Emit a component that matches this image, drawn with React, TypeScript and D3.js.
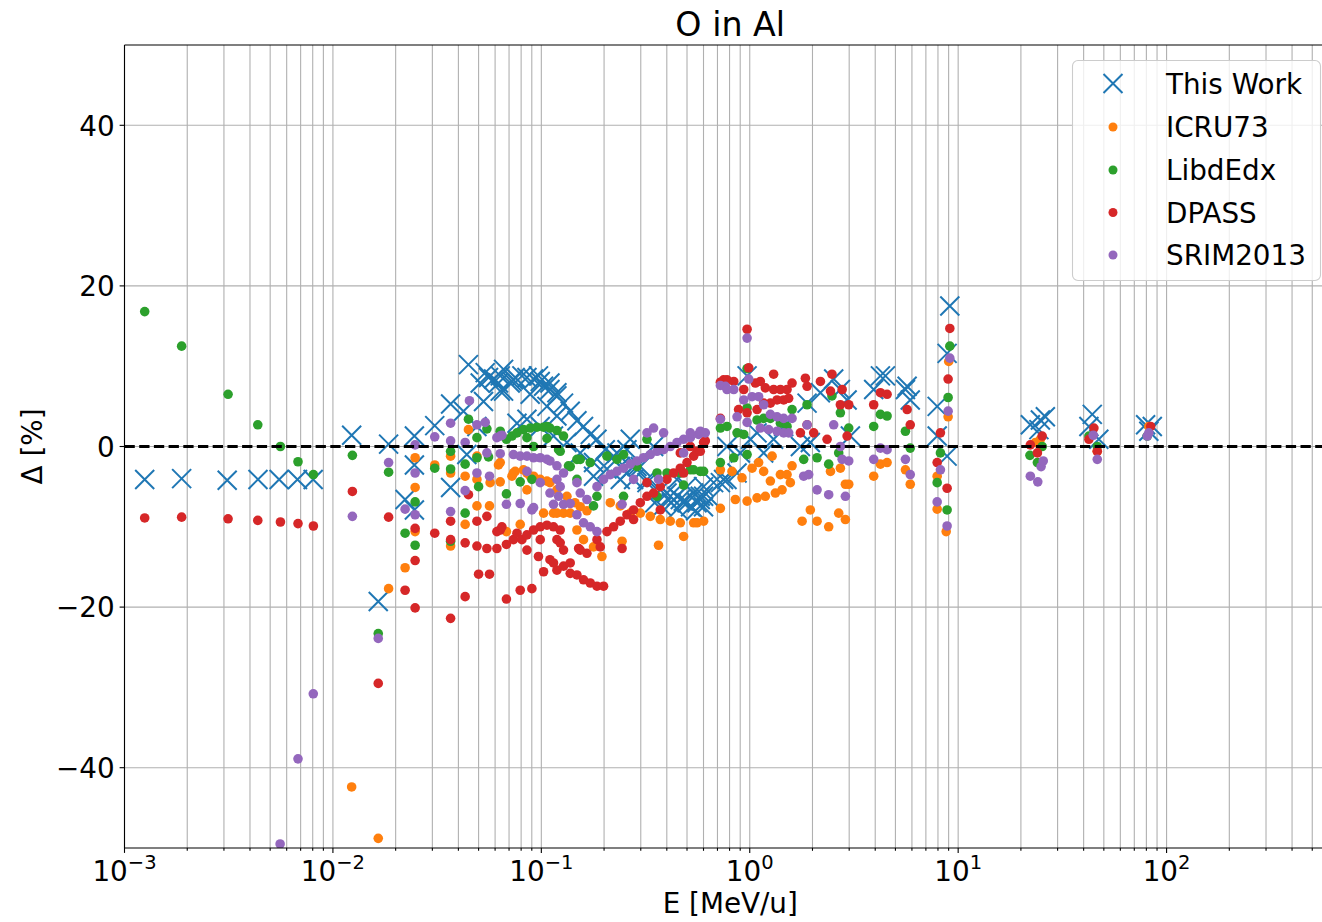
import React, { useRef, useEffect } from 'react';
import * as d3 from 'd3';

// [E in MeV/u, deviation in %]
const thisWork: [number, number][] = [
  [1.25e-3, -4.1], [1.88e-3, -4.0], [3.11e-3, -4.2], [4.37e-3, -4.1], [5.52e-3, -4.1], [6.76e-3, -4.1], [8.04e-3, -4.1],
  [0.0123, 1.4], [0.0185, 0.3], [0.0246, 1.3], [0.0222, -6.6], [0.0246, -2.3], [0.0246, -7.9], [0.0165, -19.3],
  [0.0308, 2.6], [0.0367, -5.1], [0.0367, 5.3], [0.0423, 4.4], [0.0439, -1.0], [0.0447, 10.2],
  [0.0491, 2.5], [0.0509, 7.9], [0.0528, 5.6], [0.0538, 9.2], [0.0558, 8.6],
  [0.059, 8.4], [0.0623, 7.9], [0.0635, 8.8], [0.0635, 6.9], [0.0659, 9.6], [0.0659, 6.9], [0.0709, 7.9],
  [0.0723, 8.1], [0.0735, 8.3], [0.0749, 8.6], [0.0764, 2.9], [0.0807, 8.8], [0.0853, 8.6], [0.0853, 3.4],
  [0.0884, 6.5], [0.0918, 8.4], [0.0969, 8.8], [0.0988, 8.1], [0.0988, 2.5], [0.1025, 7.5], [0.1064, 5.0],
  [0.11, 7.9], [0.11, 7.1], [0.1144, 1.3], [0.1188, 6.7], [0.1188, 6.3], [0.1188, 3.8], [0.1278, 5.4],
  [0.1327, 0.5], [0.1376, 4.4], [0.1482, 3.2], [0.1537, -0.8], [0.1594, 2.5], [0.1717, 1.5], [0.178, -2.0],
  [0.178, -3.7], [0.1849, 0.9], [0.2027, -0.4], [0.2065, -2.8], [0.2222, -1.2], [0.2306, -0.8], [0.2392, -2.5],
  [0.2392, -4.1], [0.2576, -3.3], [0.2576, -0.4], [0.2672, 0.9], [0.2771, -4.1], [0.2877, -2.5], [0.2985, -2.5],
  [0.3213, -4.5], [0.3213, -4.1], [0.3457, 0.0], [0.35, -7.0], [0.3722, -5.4], [0.38, -7.5], [0.4008, -5.8],
  [0.4156, -6.2], [0.42, -7.0], [0.4477, -6.2], [0.4477, -4.1], [0.45, -7.8], [0.4643, -6.6], [0.48, -6.8],
  [0.5, -7.0], [0.5, -5.0], [0.52, -7.5], [0.538, -5.8], [0.55, -8.0], [0.5585, -7.0], [0.579, -6.2],
  [0.579, -6.6], [0.6006, -6.2], [0.6006, -5.0], [0.6, -7.5], [0.65, -6.5], [0.671, -4.5], [0.723, -4.5],
  [0.749, -4.1], [0.778, -4.1], [0.778, 0.0], [0.869, -3.3], [0.901, -0.8], [0.971, 8.8], [1.007, 0.9],
  [1.084, 1.7], [1.166, -0.8], [1.302, 0.9], [1.455, 2.5], [1.75, 0.0], [1.884, 5.4], [1.953, 0.5],
  [2.183, 6.7], [2.528, 8.4], [2.722, 7.1], [2.932, 5.8], [3.04, 1.3], [3.933, 7.1], [4.236, 8.8],
  [4.477, 8.8], [5.585, 7.1], [5.69, 7.5], [5.89, 5.8], [7.93, 5.0], [7.93, 1.3], [8.85, -1.2],
  [8.85, 11.6], [9.12, 17.5], [22.2, 2.7], [24.4, 2.1], [24.8, 3.3], [26.2, 3.7], [42.4, 2.5],
  [44.0, 4.0], [47.3, 0.9], [79.3, 2.7], [82.2, 1.9], [85.4, 2.5],
];

const icru73: [number, number][] = [
  [0.0123, -42.4], [0.0165, -48.8], [0.0185, -17.7], [0.0222, -15.1], [0.0248, -1.4], [0.0248, -5.1],
  [0.0248, -10.6], [0.0308, -2.3], [0.0367, -1.2], [0.0367, -3.3], [0.0367, -12.4], [0.0431, -3.7],
  [0.0431, -9.7], [0.0447, 2.1], [0.0491, -1.2], [0.0491, -4.1], [0.0491, -7.4], [0.0564, -7.4],
  [0.0568, -4.5], [0.0623, -2.3], [0.0635, -4.4], [0.0635, -2.0], [0.068, -10.6], [0.0723, -3.7],
  [0.0735, -3.3], [0.0749, -3.1], [0.0792, -9.7], [0.0821, -2.9], [0.0853, -3.3], [0.0853, -5.4],
  [0.0884, -3.7], [0.0918, -3.7], [0.0988, -4.1], [0.1025, -8.3], [0.1064, -4.3], [0.11, -4.5],
  [0.1144, -8.3], [0.1188, -5.4], [0.1188, -8.3], [0.1278, -8.3], [0.1327, -6.2], [0.1376, -8.3],
  [0.145, -7.0], [0.1482, -10.4], [0.1537, -7.5], [0.1594, -11.6], [0.1655, -8.0], [0.178, -12.5],
  [0.1953, -13.7], [0.2142, -7.0], [0.2392, -7.4], [0.244, -11.8], [0.2672, -8.3], [0.2985, -8.3],
  [0.3333, -8.7], [0.365, -12.3], [0.3722, -9.1], [0.4156, -9.3], [0.4643, -9.5], [0.4816, -11.2],
  [0.538, -9.5], [0.5585, -9.5], [0.6006, -9.3], [0.723, -2.9], [0.723, -7.7], [0.822, -3.1],
  [0.853, -6.6], [0.918, -3.9], [0.971, -6.8], [1.026, -2.7], [1.084, -6.4], [1.103, -2.0],
  [1.166, -3.1], [1.188, -6.2], [1.256, -4.3], [1.28, -1.2], [1.327, -5.8], [1.403, -3.5],
  [1.429, -5.4], [1.51, -3.5], [1.566, -4.5], [1.596, -2.4], [1.783, -9.3], [1.953, -7.9],
  [2.104, -9.3], [2.392, -10.0], [2.44, -3.1], [2.672, -8.3], [2.722, -2.7], [2.877, -9.1],
  [2.877, -4.7], [2.985, -4.7], [3.933, -3.7], [4.236, -2.2], [4.56, -2.0], [5.585, -2.9],
  [5.89, -4.7], [7.93, -3.7], [7.93, -7.8], [8.76, -10.6], [8.95, 3.7], [9.01, 10.6],
  [23.5, 0.5], [24.8, 0.9], [46.5, -0.6], [82.2, 2.5],
];

const libdedx: [number, number][] = [
  [1.25e-3, 16.8], [1.88e-3, 12.5], [3.14e-3, 6.5], [4.36e-3, 2.7], [5.6e-3, 0.0], [6.8e-3, -1.9],
  [8.06e-3, -3.5], [0.0124, -1.1], [0.0165, -23.3], [0.0185, -3.2], [0.0222, -10.8], [0.0248, -6.9],
  [0.0248, -12.3], [0.0308, -2.7], [0.0367, -0.6], [0.0367, -2.8], [0.0367, -11.8], [0.0431, -2.2],
  [0.0431, -8.3], [0.0447, 3.4], [0.0491, 1.1], [0.0491, -1.4], [0.05, -5.0], [0.0548, 2.2],
  [0.0558, -1.3], [0.0635, 1.9], [0.068, 0.9], [0.068, -5.9], [0.0723, 1.3], [0.0764, 1.7],
  [0.0792, -4.4], [0.0821, 2.1], [0.0853, 1.1], [0.0884, 2.3], [0.0901, -4.1], [0.0918, 0.0],
  [0.0952, 2.4], [0.1025, 2.4], [0.1064, 2.5], [0.1064, 1.0], [0.11, 2.3], [0.1188, 2.0],
  [0.121, -0.4], [0.1232, -0.6], [0.1278, 1.3], [0.135, -2.4], [0.1376, -2.5], [0.1482, -1.6],
  [0.1482, -4.1], [0.1537, -1.6], [0.1717, -2.0], [0.178, -7.4], [0.1849, -6.2], [0.2065, -1.2],
  [0.2306, -1.6], [0.248, -1.0], [0.248, -6.2], [0.2877, -2.5], [0.3213, 0.9], [0.3589, -3.3],
  [0.3589, -6.2], [0.4008, -3.3], [0.4643, -3.3], [0.4816, -4.8], [0.5186, -2.9], [0.538, -2.9],
  [0.579, -3.1], [0.6006, -3.1], [0.723, -2.0], [0.723, 2.3], [0.778, 2.5], [0.838, -1.4],
  [0.869, 1.7], [0.936, 1.5], [0.971, -1.0], [0.971, 4.8], [0.971, 9.7], [1.084, 3.3],
  [1.166, 3.5], [1.256, 3.5], [1.403, 2.9], [1.51, 2.5], [1.596, 4.6], [1.815, -1.6],
  [1.884, 5.2], [2.104, -1.4], [2.392, -2.2], [2.48, 6.3], [2.672, -0.8], [2.722, 4.2],
  [2.985, 2.3], [3.933, 2.5], [4.236, 4.0], [4.56, 3.8], [5.585, 1.9], [5.89, -0.2],
  [7.93, -4.5], [8.22, -0.8], [8.85, -7.9], [8.95, 6.1], [9.12, 12.5], [22.1, -1.1],
  [24.0, -2.0], [25.3, 0.0], [42.4, 1.3], [46.5, 0.0], [80.8, 1.3],
];

const dpass: [number, number][] = [
  [1.25e-3, -8.9], [1.88e-3, -8.8], [3.14e-3, -9.0], [4.36e-3, -9.2], [5.6e-3, -9.4], [6.8e-3, -9.6],
  [8.06e-3, -9.9], [0.0124, -5.6], [0.0165, -29.5], [0.0185, -8.8], [0.0222, -17.9], [0.0248, -10.2],
  [0.0248, -14.2], [0.0248, -20.1], [0.0308, -10.8], [0.0367, -9.3], [0.0367, -11.6], [0.0367, -21.4],
  [0.0431, -12.0], [0.0431, -18.7], [0.0447, -6.0], [0.0491, -9.3], [0.0491, -12.4], [0.05, -15.9],
  [0.0548, -8.7], [0.0548, -12.7], [0.0564, -15.9], [0.0612, -10.6], [0.0612, -12.7], [0.0635, -10.4],
  [0.0647, -10.0], [0.068, -12.2], [0.068, -19.0], [0.0735, -11.6], [0.0764, -10.8], [0.0792, -17.9],
  [0.0807, -11.6], [0.0853, -11.0], [0.0853, -12.9], [0.0901, -17.7], [0.0918, -10.4], [0.0969, -13.7],
  [0.0988, -10.0], [0.0988, -11.6], [0.1025, -15.6], [0.1064, -9.8], [0.11, -14.1], [0.1144, -10.0],
  [0.1144, -14.5], [0.1188, -11.6], [0.1188, -15.4], [0.1232, -10.4], [0.1232, -12.0], [0.1278, -12.9],
  [0.1278, -14.9], [0.1376, -14.5], [0.1376, -15.8], [0.1482, -16.0], [0.151, -12.7], [0.1537, -12.9],
  [0.1594, -16.6], [0.1655, -13.3], [0.1717, -17.0], [0.1849, -11.6], [0.1849, -17.4], [0.1918, -12.5],
  [0.1989, -17.4], [0.2065, -10.6], [0.2222, -10.0], [0.2392, -9.3], [0.244, -12.7], [0.2576, -8.5],
  [0.2771, -7.9], [0.2771, -9.1], [0.2985, -7.0], [0.3213, -6.2], [0.3213, -4.5], [0.3457, -5.8],
  [0.3722, -5.0], [0.3722, -7.9], [0.4008, -4.1], [0.431, -3.3], [0.4643, -2.7], [0.4643, -0.8],
  [0.4816, -3.3], [0.5, -2.0], [0.5186, 0.0], [0.538, -1.2], [0.5585, -0.6], [0.579, -0.6],
  [0.6006, 0.5], [0.612, 0.7], [0.723, 3.5], [0.723, 8.0], [0.749, 8.3], [0.778, 8.3],
  [0.838, 8.1], [0.884, 4.6], [0.936, 7.1], [0.971, 4.2], [0.971, 14.6], [0.989, 9.8],
  [1.064, 7.9], [1.084, 4.6], [1.124, 8.1], [1.166, 5.4], [1.188, 7.3], [1.256, 5.4],
  [1.302, 7.1], [1.302, 9.0], [1.352, 5.8], [1.403, 7.1], [1.455, 5.8], [1.51, 7.1],
  [1.537, 6.0], [1.596, 7.9], [1.75, 1.7], [1.849, 8.5], [1.884, 7.5], [1.884, 2.7],
  [2.027, 1.7], [2.183, 8.1], [2.35, 0.9], [2.44, 6.9], [2.48, 9.0], [2.722, 5.2],
  [2.776, 7.1], [2.932, 1.3], [2.985, 5.2], [3.933, 5.2], [4.236, 6.7], [4.56, 6.5],
  [5.69, 4.6], [5.89, 2.7], [7.93, -2.0], [8.22, 1.7], [8.85, -5.2], [8.95, 8.4],
  [9.12, 14.7], [22.2, 0.2], [24.0, -0.8], [25.3, 1.3], [42.4, 0.9], [44.8, 2.3],
  [46.5, -0.6], [83.9, 2.5],
];

const srim2013: [number, number][] = [
  [5.58e-3, -49.5], [6.8e-3, -38.9], [8.05e-3, -30.8], [0.0124, -8.7], [0.0165, -23.9], [0.0185, -2.0],
  [0.0222, -7.8], [0.0248, 0.2], [0.0248, -3.3], [0.0248, -8.5], [0.0308, 1.2], [0.0367, 2.9],
  [0.0367, 0.7], [0.0367, -8.1], [0.0431, 0.5], [0.0431, -5.5], [0.0452, 5.7], [0.0491, 2.7],
  [0.0491, -3.3], [0.0538, 3.0], [0.0548, -0.8], [0.0564, -3.7], [0.0612, 1.1], [0.0635, 1.3],
  [0.0635, -0.9], [0.0647, 1.4], [0.068, -7.2], [0.0735, -1.0], [0.0792, -1.2], [0.0792, -7.1],
  [0.0853, -1.2], [0.0853, -3.1], [0.0901, -7.9], [0.0918, -1.4], [0.0918, -7.6], [0.0988, -1.4],
  [0.0988, -4.5], [0.1064, -1.6], [0.11, -1.8], [0.11, -5.8], [0.1144, -7.2], [0.1188, -2.4],
  [0.1188, -4.1], [0.121, -6.2], [0.1232, -5.0], [0.1278, -3.3], [0.1278, -7.2], [0.1376, -7.1],
  [0.1482, -4.5], [0.1482, -8.5], [0.1537, -5.8], [0.1594, -9.5], [0.1655, -6.6], [0.1717, -10.0],
  [0.1849, -5.0], [0.1849, -10.6], [0.1989, -4.1], [0.2142, -3.5], [0.2306, -3.1], [0.244, -7.2],
  [0.248, -2.7], [0.2672, -2.2], [0.2771, -4.1], [0.2877, -1.8], [0.3095, -1.4], [0.3213, 1.7],
  [0.3333, -1.0], [0.3457, 2.3], [0.3589, -0.6], [0.365, -4.1], [0.386, -0.4], [0.386, 1.7],
  [0.4156, 0.0], [0.4477, 0.5], [0.4816, 0.9], [0.4816, -0.8], [0.5186, 1.1], [0.5186, 1.7],
  [0.568, 1.5], [0.579, 1.9], [0.612, 1.7], [0.723, 7.6], [0.723, 3.4], [0.764, 7.5],
  [0.778, 7.1], [0.838, 7.1], [0.869, 3.7], [0.936, 5.8], [0.971, 3.0], [0.971, 13.5],
  [0.989, 8.4], [1.026, 6.2], [1.103, 6.2], [1.124, 2.3], [1.166, 5.2], [1.232, 2.1],
  [1.256, 4.0], [1.352, 3.7], [1.352, 1.9], [1.455, 3.5], [1.455, 1.7], [1.537, 1.7],
  [1.596, 3.5], [1.815, -3.7], [1.884, 2.7], [1.918, -3.5], [2.104, -5.4], [2.392, -6.0],
  [2.528, 2.7], [2.722, 0.0], [2.776, -1.6], [2.877, -6.2], [2.985, -1.8], [3.933, -1.6],
  [4.236, -0.2], [4.56, -0.4], [5.585, -1.6], [5.89, -3.5], [7.93, -6.9], [8.22, -2.9],
  [8.85, -9.9], [8.95, 4.4], [9.12, 11.0], [22.2, -3.7], [24.1, -4.4], [25.0, -2.5],
  [25.6, -1.8], [44.5, 1.4], [46.5, -1.6], [80.8, 1.3], [82.2, 1.7],
];

const seriesNames = ['This Work', 'ICRU73', 'LibdEdx', 'DPASS', 'SRIM2013'];
const seriesColors = ['#1f77b4', '#ff7f0e', '#2ca02c', '#d62728', '#9467bd'];
const seriesData = [thisWork, icru73, libdedx, dpass, srim2013];

const xDomain: [number, number] = [1e-3, 650];
const yDomain: [number, number] = [-50, 50];
const yTicks = [-40, -20, 0, 20, 40];
const xDecades = [-3, -2, -1, 0, 1, 2];

const W = 1322;
const H = 922;
const plot = { left: 124.5, right: 1336, top: 45, bottom: 848 };
const FONT = '"DejaVu Sans", sans-serif';

const App = () => {
  const svgRef = useRef<SVGSVGElement>(null);

  useEffect(() => {
    const svg = d3.select(svgRef.current);
    svg.selectAll('*').remove();

    const x = d3.scaleLog().domain(xDomain).range([plot.left, plot.right]);
    const y = d3.scaleLinear().domain(yDomain).range([plot.bottom, plot.top]);

    // all minor + major positions on the log axis
    const xGrid: number[] = [];
    xDecades.forEach(e => {
      for (let k = 1; k <= 9; k++) {
        const v = k * Math.pow(10, e);
        if (v <= xDomain[1]) xGrid.push(v);
      }
    });

    svg.append('defs').append('clipPath').attr('id', 'plot-clip')
      .append('rect')
      .attr('x', plot.left).attr('y', plot.top)
      .attr('width', plot.right - plot.left).attr('height', plot.bottom - plot.top);

    const grid = svg.append('g').attr('stroke', '#b0b0b0').attr('stroke-width', 1.1);
    grid.selectAll('.vg').data(xGrid).enter().append('line')
      .attr('x1', d => x(d)).attr('x2', d => x(d))
      .attr('y1', plot.top).attr('y2', plot.bottom);
    grid.selectAll('.hg').data(yTicks).enter().append('line')
      .attr('x1', plot.left).attr('x2', plot.right)
      .attr('y1', d => y(d)).attr('y2', d => y(d));

    const pts = svg.append('g').attr('clip-path', 'url(#plot-clip)');
    seriesData.forEach((data, i) => {
      const g = pts.append('g');
      if (i === 0) {
        const s = 9.5;
        g.selectAll('path').data(data).enter().append('path')
          .attr('d', d => {
            const cx = x(d[0]), cy = y(d[1]);
            return `M${cx - s},${cy - s}L${cx + s},${cy + s}M${cx - s},${cy + s}L${cx + s},${cy - s}`;
          })
          .attr('stroke', seriesColors[i])
          .attr('stroke-width', 2)
          .attr('fill', 'none');
      } else {
        g.selectAll('circle').data(data).enter().append('circle')
          .attr('cx', d => x(d[0]))
          .attr('cy', d => y(d[1]))
          .attr('r', 4.8)
          .attr('fill', seriesColors[i]);
      }
    });

    // zero reference line
    svg.append('line')
      .attr('x1', plot.left).attr('x2', plot.right)
      .attr('y1', y(0)).attr('y2', y(0))
      .attr('stroke', '#000').attr('stroke-width', 2.8)
      .attr('stroke-dasharray', '10.3,4.4');

    // spines
    const spines = svg.append('g').attr('stroke', '#000').attr('stroke-width', 1.1);
    spines.append('line').attr('x1', plot.left).attr('x2', plot.left).attr('y1', plot.top).attr('y2', plot.bottom);
    spines.append('line').attr('x1', plot.left).attr('x2', plot.right).attr('y1', plot.top).attr('y2', plot.top);
    spines.append('line').attr('x1', plot.left).attr('x2', plot.right).attr('y1', plot.bottom).attr('y2', plot.bottom);

    // ticks
    const ticks = svg.append('g').attr('stroke', '#000').attr('stroke-width', 1.1);
    ticks.selectAll('.xt').data(xGrid).enter().append('line')
      .attr('x1', d => x(d)).attr('x2', d => x(d))
      .attr('y1', plot.bottom)
      .attr('y2', d => plot.bottom + (Math.abs(Math.log10(d) - Math.round(Math.log10(d))) < 1e-9 ? 4.9 : 2.8));
    ticks.selectAll('.yt').data(yTicks).enter().append('line')
      .attr('x1', plot.left - 4.9).attr('x2', plot.left)
      .attr('y1', d => y(d)).attr('y2', d => y(d));

    const xl = svg.append('g').style('font-family', FONT).attr('fill', '#000');
    xDecades.forEach(e => {
      const t = xl.append('text')
        .attr('x', x(Math.pow(10, e)))
        .attr('y', 881)
        .attr('text-anchor', 'middle')
        .style('font-size', '27.8px');
      t.append('tspan').text('10');
      t.append('tspan')
        .attr('dy', -12)
        .style('font-size', '19.5px')
        .text(e < 0 ? `\u2212${Math.abs(e)}` : `${e}`);
    });

    svg.append('g').selectAll('text').data(yTicks).enter().append('text')
      .attr('x', plot.left - 9.8)
      .attr('y', d => y(d))
      .attr('dy', '0.37em')
      .attr('text-anchor', 'end')
      .style('font-family', FONT)
      .style('font-size', '27.8px')
      .text(d => (d < 0 ? `\u2212${Math.abs(d)}` : `${d}`));

    const midX = (plot.left + plot.right) / 2;
    svg.append('text')
      .attr('x', midX).attr('y', 913)
      .attr('text-anchor', 'middle')
      .style('font-family', FONT).style('font-size', '27.8px')
      .text('E [MeV/u]');

    svg.append('text')
      .attr('transform', `translate(42,${y(0)}) rotate(-90)`)
      .attr('text-anchor', 'middle')
      .style('font-family', FONT).style('font-size', '27.8px')
      .text('\u0394 [%]');

    svg.append('text')
      .attr('x', midX).attr('y', 36)
      .attr('text-anchor', 'middle')
      .style('font-family', FONT).style('font-size', '33.3px')
      .text('O in Al');

    // legend
    const lg = svg.append('g');
    lg.append('rect')
      .attr('x', 1072.5).attr('y', 60.5)
      .attr('width', 248).attr('height', 220)
      .attr('rx', 5.5)
      .attr('fill', 'rgba(255,255,255,0.8)')
      .attr('stroke', '#cccccc').attr('stroke-width', 1.1);
    const rowY = [83.5, 127, 170, 212.5, 255];
    seriesNames.forEach((name, i) => {
      const cy = rowY[i];
      if (i === 0) {
        const s = 9.5;
        lg.append('path')
          .attr('d', `M${1113 - s},${cy - s}L${1113 + s},${cy + s}M${1113 - s},${cy + s}L${1113 + s},${cy - s}`)
          .attr('stroke', seriesColors[i]).attr('stroke-width', 2).attr('fill', 'none');
      } else {
        lg.append('circle').attr('cx', 1113).attr('cy', cy).attr('r', 4.5).attr('fill', seriesColors[i]);
      }
      lg.append('text')
        .attr('x', 1166).attr('y', cy).attr('dy', '0.36em')
        .style('font-family', FONT).style('font-size', '27.8px')
        .text(name);
    });
  }, []);

  return (
    <div style={{ position: 'absolute', left: 0, top: 0 }}>
      <svg ref={svgRef} width={W} height={H} style={{ display: 'block', background: '#fff' }} />
    </div>
  );
};

export default App;
